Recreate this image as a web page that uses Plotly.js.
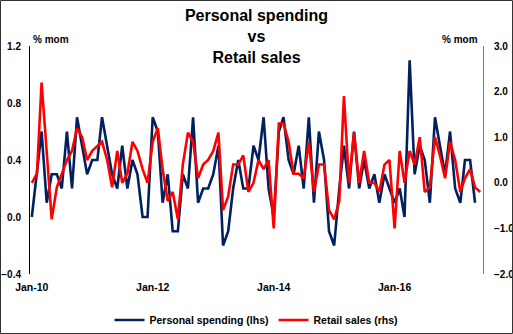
<!DOCTYPE html>
<html>
<head>
<meta charset="utf-8">
<script src="https://cdn.plot.ly/plotly-3.0.1.min.js"></script>
<style>
  html, body { margin: 0; padding: 0; background: #ffffff; }
  #chart { width: 513px; height: 334px; }
</style>
</head>
<body>
<div id="chart"></div>
<script>
// ---- Data (monthly, % mom) ----
const startYear = 2010;
const startMonth = 1;

// Personal spending (lhs), Jan-10 .. May-17
const personalSpending = [
  0.0, 0.3, 0.6, 0.1, 0.3, 0.3, 0.2, 0.6, 0.2, 0.7, 0.5, 0.3,
  0.4, 0.4, 0.7, 0.5, 0.3, 0.2, 0.5, 0.2, 0.4, 0.3, 0.0, 0.0,
  0.7, 0.6, 0.1, 0.3, -0.1, -0.1, 0.3, 0.2, 0.7, 0.1, 0.2, 0.2,
  0.3, 0.5, -0.2, -0.1, 0.2, 0.4, 0.2, 0.2, 0.5, 0.4, 0.7, 0.2,
  0.0, 0.6, 0.7, 0.4, 0.3, 0.5, 0.2, 0.7, 0.1, 0.6, 0.4, -0.1,
  -0.2, 0.2, 0.5, 0.2, 0.6, 0.2, 0.4, 0.2, 0.3, 0.1, 0.3, 0.2,
  0.1, 0.2, 0.0, 1.1, 0.3, 0.5, 0.4, 0.1, 0.7, 0.5, 0.3, 0.6,
  0.2, 0.1, 0.4, 0.4, 0.1
];

// Retail sales (rhs), Jan-10 .. Jun-17
const retailSales = [
  0.0, 0.2, 2.2, 0.7, -0.8, -0.1, 0.2, 0.5, 0.7, 1.2, 1.0, 0.5,
  0.7, 0.8, 0.9, 0.5, -0.1, 0.7, 0.0, 0.2, 0.9, 0.7, 0.3, 0.0,
  0.9, 1.2, 0.3, -0.4, -0.2, -0.8, 0.4, 1.1, 0.9, 0.1, 0.4, 0.5,
  0.7, 1.1, -0.6, -0.3, 0.4, 0.4, 0.6, -0.2, 0.0, 0.5, 0.3, 0.5,
  -1.0, 1.3, 1.3, 0.9, 0.2, 0.2, 0.1, 0.9, -0.2, 0.4, 0.4, -0.6,
  -0.8, -0.4, 1.9, 0.0, 1.1, 0.0, 0.7, 0.0, 0.0, -0.2, 0.4, 0.5,
  -1.0, 0.7, 0.0, 0.7, 0.4, 1.0, -0.2, -0.1, 1.0, 0.6, 0.1, 0.9,
  0.5, -0.2, 0.1, 0.3, -0.1, -0.2
];

const xTickVals = ['2010-01-01', '2012-01-01', '2014-01-01', '2016-01-01'];
const xTickText = ['Jan-10', 'Jan-12', 'Jan-14', 'Jan-16'];

function monthDates(n) {
  const out = [];
  for (let i = 0; i < n; i++) {
    const m = startMonth - 1 + i;
    const y = startYear + Math.floor(m / 12);
    const mm = (m % 12) + 1;
    out.push(y + '-' + String(mm).padStart(2, '0') + '-01');
  }
  return out;
}

const W = 513, H = 334;
const M = { l: 30, r: 30, t: 46, b: 60, autoexpand: false };
const PW = W - M.l - M.r, PH = H - M.t - M.b;
const PB = H - M.b; // plot bottom in px
const xRange = ['2009-12-21', '2017-06-18'];

const FONT = 'Liberation Sans, Arial, sans-serif';
const xTickFont = { family: FONT, size: 10.5, color: '#000000', weight: 'bold' };
const yTickFont = { family: FONT, size: 10, color: '#000000', weight: 'bold' };

const traces = [
  {
    type: 'scatter', mode: 'lines', name: 'Personal spending (lhs)',
    x: monthDates(personalSpending.length), y: personalSpending,
    xaxis: 'x', yaxis: 'y',
    line: { color: '#002060', width: 2.6 }
  },
  {
    type: 'scatter', mode: 'lines', name: 'Retail sales (rhs)',
    x: monthDates(retailSales.length), y: retailSales,
    xaxis: 'x', yaxis: 'y2',
    line: { color: '#FF0000', width: 2.6 }
  }
];

const layout = {
  width: W, height: H,
  margin: M,
  paper_bgcolor: '#ffffff', plot_bgcolor: '#ffffff',
  showlegend: true,
  title: {
    text: '<b>Personal spending<br>vs<br>Retail sales</b>',
    font: { family: FONT, size: 16, color: '#000000' },
    x: 0.5, xanchor: 'center', xref: 'container',
    y: 1 - 21 / H, yanchor: 'middle', yref: 'container'
  },
  xaxis: {
    type: 'date', range: xRange,
    tickvals: xTickVals, ticktext: xTickText,
    showgrid: false, zeroline: false, showline: false,
    ticks: '', tickfont: xTickFont, ticklabelstandoff: 5,
    fixedrange: true
  },
  xaxis2: {
    type: 'date', range: xRange, overlaying: 'x', anchor: 'free',
    position: (0 - (-0.4)) / 1.6, side: 'bottom',
    tickvals: xTickVals, showticklabels: false,
    showgrid: false, zeroline: false,
    showline: true, linecolor: '#404040', linewidth: 1,
    ticks: 'outside', ticklen: 3, tickcolor: '#404040'
  },
  yaxis: {
    range: [-0.4, 1.2], tickvals: [-0.4, 0, 0.4, 0.8, 1.2], tickformat: '.1f',
    showgrid: false, zeroline: false,
    showline: true, linecolor: '#000000', linewidth: 1,
    ticks: '', tickfont: yTickFont, ticklabelstandoff: 6
  },
  yaxis2: {
    range: [-2, 3], tickvals: [-2, -1, 0, 1, 2, 3], tickformat: '.1f',
    overlaying: 'y', side: 'right', anchor: 'x',
    showgrid: false, zeroline: false,
    showline: true, linecolor: '#808080', linewidth: 1,
    ticks: '', tickfont: yTickFont, ticklabelstandoff: 8
  },
  legend: {
    orientation: 'h', x: 0.5, xanchor: 'center',
    y: (PB - 320) / PH, yanchor: 'middle',
    font: { family: FONT, size: 10.5, color: '#000000', weight: 'bold' },
    itemwidth: 30, tracegroupgap: 0, bgcolor: 'rgba(0,0,0,0)'
  },
  annotations: [
    {
      text: '<b>% mom</b>', xref: 'paper', yref: 'paper',
      x: (31 - M.l) / PW, xanchor: 'left', y: (PB - 40) / PH, yanchor: 'middle',
      showarrow: false, font: { family: FONT, size: 10, color: '#000000' }
    },
    {
      text: '<b>% mom</b>', xref: 'paper', yref: 'paper',
      x: (480 - M.l) / PW, xanchor: 'right', y: (PB - 40) / PH, yanchor: 'middle',
      showarrow: false, font: { family: FONT, size: 10, color: '#000000' }
    }
  ],
  shapes: [
    {
      type: 'rect', xref: 'paper', yref: 'paper',
      x0: (0.5 - M.l) / PW, x1: (W - 0.5 - M.l) / PW,
      y0: (PB - (H - 0.5)) / PH, y1: (PB - 0.5) / PH,
      line: { color: '#333333', width: 1 }, fillcolor: 'rgba(0,0,0,0)', layer: 'above'
    }
  ]
};

Plotly.newPlot('chart', traces, layout, { displayModeBar: false, staticPlot: true });
</script>
</body>
</html>
